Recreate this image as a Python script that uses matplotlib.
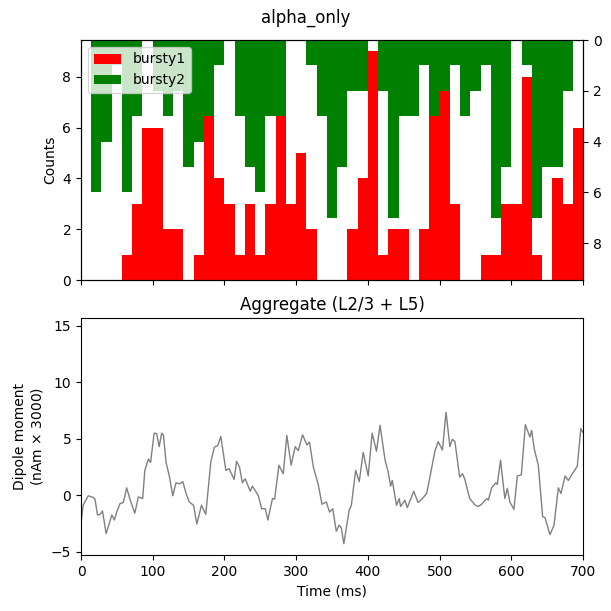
import numpy as np
import matplotlib
matplotlib.use("Agg")
import matplotlib.pyplot as plt

# spike histogram counts per bin (49 bins over 0-700 ms)
bursty1 = [0, 0, 0, 0, 1, 3, 6, 6, 2, 2, 0, 1, 6.5, 4, 3, 1, 3, 1, 3, 6.5, 3, 5, 2, 0, 0,
           0, 2, 4, 9, 1, 2, 2, 0, 2, 6.5, 7.5, 3, 0, 0, 1, 1, 3, 3, 8, 1, 0, 4, 3, 6]
bursty2 = [0, 6, 4, 1, 6, 3, 0, 2, 3, 2, 5, 4, 3, 1, 0, 3, 5, 6, 3, 3, 0, 0, 1, 3, 7,
           5, 2, 2, 0, 2, 7, 3, 3, 1, 3, 2, 1, 3, 2, 1, 7, 5, 0, 1, 7, 5, 5, 2, 0]

# aggregate dipole
dip_t = [0, 3, 10, 17, 19.5, 23, 26.5, 30, 32.5, 35, 38, 43, 46.5, 49.8, 54.4, 59, 63.7, 68, 75, 80,
         86, 89, 94, 97, 102, 105.6, 109, 112.5, 115, 118.6, 123, 128, 132.5, 137, 142, 146.5, 151, 157,
         161.5, 168, 174, 181, 186, 190.7, 195, 202, 206.5, 213.5, 217, 221, 225, 229, 236, 239, 247,
         252, 257, 260.5, 267, 270, 276, 282, 287, 293, 298.6, 303, 309, 315, 318.6, 324, 331, 336,
         342, 346.6, 351, 356, 360, 363, 366.5, 374, 377, 383, 388, 393.5, 400.5, 406, 412, 417, 424,
         428.4, 431.7, 434, 440, 443.7, 445.6, 451.6, 455, 464, 470, 476, 482, 485.6, 493.5, 498, 504,
         509, 514.4, 517.7, 521.4, 528, 532, 535, 542, 550, 554, 558.6, 565.6, 568, 572.6, 578.6, 580.5,
         585, 591, 594.4, 598, 603.7, 608.4, 614, 619.6, 626, 628.4, 632, 637.7, 643.7, 647, 654, 659.6,
         665.6, 669.3, 675, 679.6, 684, 692, 697, 699.5]
dip_v = [-2.5, -0.9, -0.05, -0.2, -0.35, -1.75, -1.7, -1.4, -2.4, -3.4, -2.8, -1.75, -2.2, -1.5, -0.75,
         -0.65, 0.65, -0.3, -1.6, -0.15, -0.3, 2.2, 3.2, 2.9, 5.5, 5.45, 4.3, 5.5, 5.3, 2.9, 1.75, -0.05,
         1.1, 1.0, 1.2, 0.15, -0.6, -0.9, -2.55, -0.9, -1.7, 2.95, 4.25, 4.4, 5.2, 2.2, 2.35, 1.4, 3.0,
         2.5, 1.1, 1.45, 0.35, 0.8, 0, -1.2, -1.2, -2.2, -0.3, -0.35, 2.65, 1.9, 5.3, 2.65, 4.3, 3.95,
         5.35, 4.45, 4.7, 2.5, 0.9, -0.8, -0.6, -1.5, -1.2, -3.2, -2.65, -2.9, -4.3, -1.3, -0.9, 2.2, 1.2,
         3.8, 1.7, 5.5, 3.9, 6.2, 3.1, 2.05, 0.8, 1.3, -0.9, -0.3, -1.0, -0.45, -1.1, 0.35, -0.65, -0.3,
         0.15, 1.3, 3.9, 4.75, 4.0, 7.35, 4.3, 4.95, 4.75, 1.6, 1.9, 1.45, -0.3, -0.9, -1.0, -0.8, -0.3,
         -0.45, 0.65, 1.1, 0.95, 3.1, -0.3, 0.6, -0.6, -1.25, 1.7, 1.8, 6.25, 5.15, 5.75, 4.1, 2.65, -1.9,
         -2.0, -3.5, -2.65, 0.65, 0.15, 1.7, 1.3, 1.8, 2.55, 5.9, 5.6]

edges = np.linspace(0, 700, len(bursty1) + 1)
centers = (edges[:-1] + edges[1:]) / 2
width = edges[1] - edges[0]

fig = plt.figure(figsize=(6.11, 6.11), dpi=100)
ax1 = fig.add_axes([81 / 611, 1 - 280 / 611, 502 / 611, 240 / 611])
ax2 = fig.add_axes([81 / 611, 1 - 555 / 611, 502 / 611, 237 / 611])
fig.suptitle("alpha_only", y=0.985, fontsize=12)

ax1.bar(centers, bursty1, width=width, color="red", label="bursty1")
ax1b = ax1.twinx()
ax1b.bar(centers, bursty2, width=width, color="green", label="bursty2")
ax1.set_ylim(0, 9.45)
ax1b.set_ylim(9.45, 0)
ax1b.set_yticks([0, 2, 4, 6, 8])
ax1.set_yticks([0, 2, 4, 6, 8])
ax1.set_xlim(0, 700)
ax1.set_xticks([0, 100, 200, 300, 400, 500, 600, 700])
ax1.set_xticklabels([])
ax1.set_ylabel("Counts")
h1, l1 = ax1.get_legend_handles_labels()
h2, l2 = ax1b.get_legend_handles_labels()
ax1b.legend(h1 + h2, l1 + l2, loc="upper left")

ax2.plot(dip_t, dip_v, color="gray", lw=1)
ax2.set_xlim(0, 700)
ax2.set_ylim(-5.3, 15.7)
ax2.set_yticks([-5, 0, 5, 10, 15])
ax2.set_xlabel("Time (ms)")
ax2.set_ylabel("Dipole moment\n(nAm $\\times$ 3000)")
ax2.set_title("Aggregate (L2/3 + L5)")

fig.savefig("out.png", dpi=100)
